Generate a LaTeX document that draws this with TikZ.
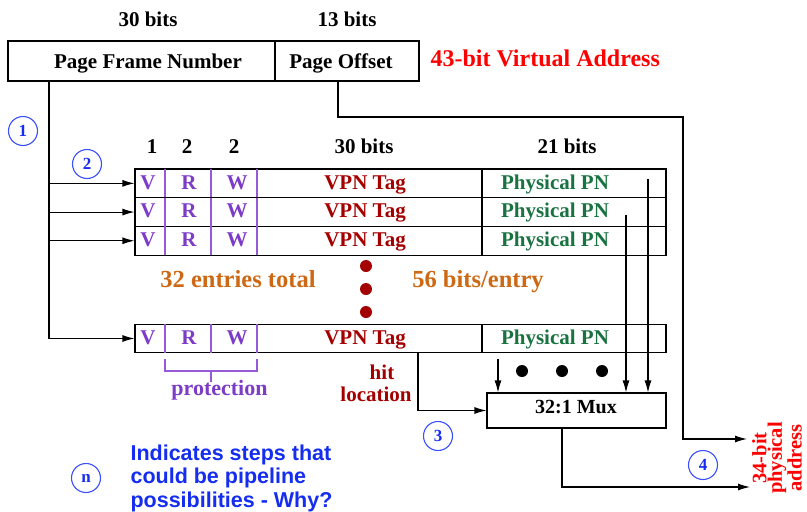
\documentclass[tikz,border=0pt]{standalone}
\usepackage{fontspec}
\setmainfont{Liberation Serif}
\newfontfamily\notesans{Liberation Sans}
\usetikzlibrary{arrows.meta}
\definecolor{vpurple}{RGB}{125,60,200}
\definecolor{lpurple}{RGB}{150,90,215}
\definecolor{dred}{RGB}{165,0,0}
\definecolor{pgreen}{RGB}{25,115,65}
\definecolor{porange}{RGB}{205,105,20}
\definecolor{cblue}{RGB}{60,80,255}
\definecolor{nblue}{RGB}{20,45,240}
\begin{document}
\begin{tikzpicture}[x=1pt,y=-1pt,line width=1.1pt,
  txt/.style={font=\bfseries\fontsize{21}{21}\selectfont,inner sep=0pt,anchor=base},
  cell/.style={draw,rectangle,inner sep=0pt,minimum height=28.7pt,minimum width=531pt},
  vabox/.style={draw,rectangle,inner sep=0pt,minimum height=40pt},
  num/.style={circle,draw=cblue,text=nblue,minimum size=29pt,inner sep=0pt,line width=1.1pt,font=\bfseries\fontsize{17}{17}\selectfont},
  arr/.style={-{Latex[length=12pt,width=7pt]}},
  pline/.style={draw=lpurple,line width=1.1pt}]
\useasboundingbox (0,0) rectangle (807,512);

% virtual address
\node[txt] (h30) at (148,26) {30 bits};
\node[txt] (h13) at (347,26) {13 bits};
\node[vabox,minimum width=267pt] (pfn) at (141.5,61) {};
\node[vabox,minimum width=144pt] (po) at (347,61) {};
\node[txt] (pfnt) at (148,68) {Page Frame Number};
\node[txt] (pot) at (341,68) {Page Offset};
\node[txt,anchor=base west,text=red,font=\bfseries\fontsize{24}{24}\selectfont] (title) at (430,66) {43-bit Virtual Address};

% column headers
\node[txt] (c1h) at (152,153) {1};
\node[txt] (c2h) at (187,153) {2};
\node[txt] (c3h) at (234,153) {2};
\node[txt] (c4h) at (364,153) {30 bits};
\node[txt] (c5h) at (567,153) {21 bits};

% rows
\foreach \i/\yc/\yb in {1/183.35/189,2/212.05/217,3/240.75/246,4/338.5/344}{
  \node[cell] (row\i) at (400.5,\yc) {};
  \draw (482,\yc-14.35) -- (482,\yc+14.35);
  \draw[pline] (165,\yc-14.35) -- (165,\yc+14.35);
  \draw[pline] (211,\yc-14.35) -- (211,\yc+14.35);
  \draw[pline] (257,\yc-14.35) -- (257,\yc+14.35);
  \node[txt,text=vpurple] (v\i) at (148,\yb) {V};
  \node[txt,text=vpurple] (r\i) at (189,\yb) {R};
  \node[txt,text=vpurple] (w\i) at (237,\yb) {W};
  \node[txt,text=dred] (t\i) at (365,\yb) {VPN Tag};
  \node[txt,text=pgreen] (p\i) at (555,\yb) {Physical PN};
}

% vertical dots
\fill[dred] (366,266) circle (6pt);
\fill[dred] (366,289) circle (6pt);
\fill[dred] (366,312) circle (6pt);
\node[txt,text=porange,font=\bfseries\fontsize{24.5}{24.5}\selectfont] (entries) at (238,287) {32 entries total};
\node[txt,text=porange,font=\bfseries\fontsize{24.5}{24.5}\selectfont] (bpe) at (478,287) {56 bits/entry};

% protection bracket
\draw[pline] (165,359) -- (165,371) -- (257,371) -- (257,359);
\draw[pline] (211,371) -- (211,382);
\node[txt,text=vpurple,font=\bfseries\fontsize{22}{22}\selectfont] (prot) at (219.5,395) {protection};

% hit location
\node[txt,text=dred] (hitt) at (382,379) {hit};
\node[txt,text=dred] (loct) at (376,401) {location};

% mux
\node[draw,rectangle,minimum width=179pt,minimum height=35pt,inner sep=0pt] (mux) at (576.5,410.5) {};
\node[txt,font=\bfseries\fontsize{20}{20}\selectfont] (muxt) at (576,413) {32:1 Mux};
\fill (522,371) circle (6pt);
\fill (562,371) circle (6pt);
\fill (602,371) circle (6pt);

% connectors from PFN
\coordinate (trunk) at (49,81);
\draw[arr] (trunk |- row1.west) -- (row1.west);
\draw[arr] (trunk |- row2.west) -- (row2.west);
\draw[arr] (trunk |- row3.west) -- (row3.west);
\draw[arr] (trunk) |- (row4.west);

% physical PN to mux
\coordinate (pp1) at (648,179);
\coordinate (pp2) at (626,215);
\coordinate (pp4) at (498,359);
\draw[arr] (pp1) -- (pp1 |- mux.north);
\draw[arr] (pp2) -- (pp2 |- mux.north);
\draw[arr] (pp4) -- (pp4 |- mux.north);

% hit line
\coordinate (hit) at (418,353);
\draw[arr] (hit) |- (mux.west);

% page offset to output
\coordinate (po1) at (338,81);
\coordinate (bend) at (683,117);
\coordinate (out1) at (747,439);
\draw[arr] (po1) |- (bend) |- (out1);

% mux output
\coordinate (mo) at (562,428);
\coordinate (out2) at (750,487);
\draw[arr] (mo) |- (out2);

\node[rotate=90,align=center,text=red,inner sep=0pt,font=\bfseries\fontsize{20.5}{15.5}\selectfont] (pa) at (777,458) {34-bit\\physical\\address};

% step circles
\node[num] (n1) at (23,131) {1};
\node[num] (n2) at (87,164) {2};
\node[num] (n3) at (438,436) {3};
\node[num] (n4) at (703,465) {4};
\node[num] (nn) at (86,478) {n};

\node[anchor=north west,align=left,inner sep=0pt,text=nblue,font=\notesans\bfseries\fontsize{21.5}{23.5}\selectfont] (note) at (130,444) {Indicates steps that\\could be pipeline\\possibilities - Why?};
\end{tikzpicture}
\end{document}
